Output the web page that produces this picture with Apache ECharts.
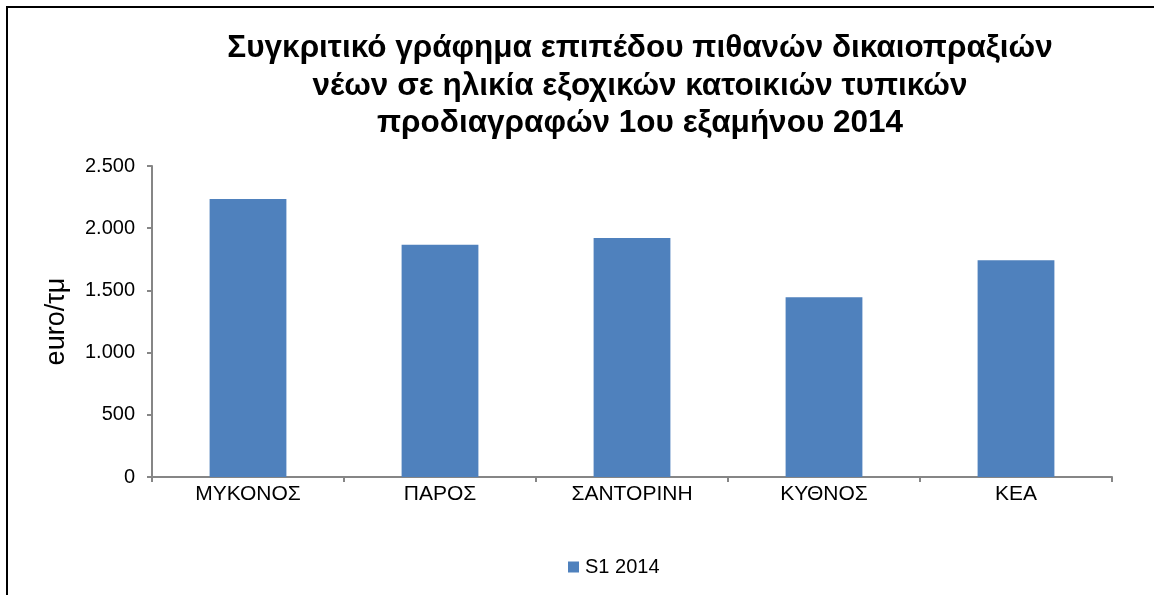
<!DOCTYPE html>
<html><head><meta charset="utf-8">
<script src="https://cdn.jsdelivr.net/npm/echarts@6/dist/echarts.min.js"></script>
<style>html,body{margin:0;padding:0;background:#fff}#c{width:1154px;height:595px}</style>
</head><body><div id="c"></div>
<script>
const categories = ['ΜΥΚΟΝΟΣ', 'ΠΑΡΟΣ', 'ΣΑΝΤΟΡΙΝΗ', 'ΚΥΘΝΟΣ', 'ΚΕΑ'];
const seriesName = 'S1 2014';
const values = [2235, 1867, 1921, 1444, 1742];
const titleText = 'Συγκριτικό γράφημα επιπέδου πιθανών δικαιοπραξιών\nνέων σε ηλικία εξοχικών κατοικιών τυπικών\nπροδιαγραφών 1ου εξαμήνου 2014';
const yName = 'euro/τμ';

const chart = echarts.init(document.getElementById('c'), null, {renderer: 'canvas'});
const fmt = v => String(v).replace(/\B(?=(\d{3})+(?!\d))/g, '.');
chart.setOption({
  animation: false,
  backgroundColor: '#fff',
  textStyle: {fontFamily: 'Liberation Sans'},
  graphic: [{
    type: 'rect', shape: {x: 7, y: 7, width: 1300, height: 800},
    style: {fill: 'none', stroke: '#000', lineWidth: 2}, z: 100
  }],
  title: {
    text: titleText, left: 635, top: 25, textAlign: 'center',
    textStyle: {fontFamily: 'Liberation Sans', fontWeight: 'bold', fontSize: 31.5, lineHeight: 37.5, color: '#000'}
  },
  legend: {
    data: [seriesName], left: 563, top: 552, itemWidth: 11, itemHeight: 11, itemGap: 4,
    icon: 'rect', textStyle: {fontFamily: 'Liberation Sans', fontSize: 20, color: '#000', padding: [0, 0, 0, 1]}, selectedMode: false
  },
  grid: {left: 152, right: 42, top: 166, bottom: 118},
  xAxis: {
    type: 'category', data: categories,
    axisLine: {lineStyle: {color: '#868686', width: 2}},
    axisTick: {show: true, length: 5, alignWithLabel: false, lineStyle: {color: '#868686', width: 2}},
    axisLabel: {fontFamily: 'Liberation Sans', fontSize: 21, color: '#000', margin: 7}
  },
  yAxis: {
    type: 'value', min: 0, max: 2500, interval: 500,
    name: yName, nameLocation: 'middle', nameGap: 82, nameRotate: 90,
    nameTextStyle: {fontFamily: 'Liberation Sans', fontSize: 27, color: '#000'},
    axisLine: {show: true, lineStyle: {color: '#868686', width: 2}},
    axisTick: {show: true, length: 5, lineStyle: {color: '#868686', width: 2}},
    splitLine: {show: false},
    axisLabel: {fontFamily: 'Liberation Sans', fontSize: 20, color: '#000', margin: 17, formatter: fmt}
  },
  series: [{
    name: seriesName, type: 'bar', data: values, barWidth: '40%',
    itemStyle: {color: '#4F81BD'}
  }]
});
</script></body></html>
